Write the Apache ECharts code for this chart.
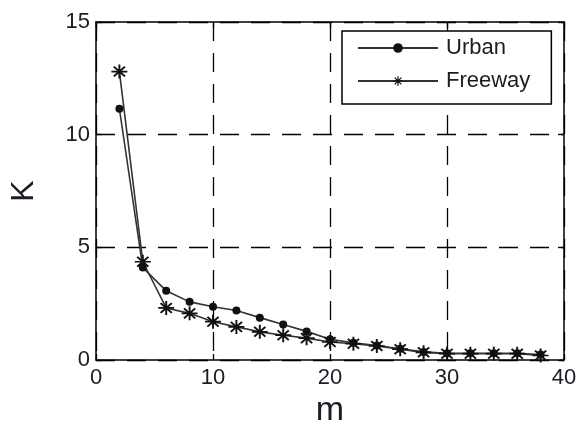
<!DOCTYPE html>
<html>
<head>
<meta charset="utf-8">
<script src="https://cdn.jsdelivr.net/npm/echarts@6/dist/echarts.min.js"></script>
<style>
  html, body { margin: 0; padding: 0; background: #fff; }
  #chart { width: 578px; height: 428px; }
</style>
</head>
<body>
<div id="chart"></div>
<script>
// m values sampled every 2 units
const mValues = [2, 4, 6, 8, 10, 12, 14, 16, 18, 20, 22, 24, 26, 28, 30, 32, 34, 36, 38];
const urbanK = [11.15, 4.1, 3.07, 2.58, 2.36, 2.2, 1.88, 1.58, 1.27, 0.92, 0.76, 0.64, 0.5, 0.36, 0.3, 0.3, 0.3, 0.3, 0.24];
const freewayK = [12.8, 4.36, 2.31, 2.07, 1.7, 1.47, 1.25, 1.1, 0.97, 0.8, 0.72, 0.62, 0.48, 0.34, 0.28, 0.28, 0.28, 0.28, 0.2];
const xTicks = [0, 10, 20, 30, 40];
const yTicks = [0, 5, 10, 15];

// asterisk marker: plus + cross, all subpaths wound the same way
const asterisk = 'path://M8.8,0L11.2,0L11.2,20L8.8,20Z M0,8.8L20,8.8L20,11.2L0,11.2Z ' +
  'M2.1,3.9L3.9,2.1L17.9,16.1L16.1,17.9Z M16.1,2.1L17.9,3.9L3.9,17.9L2.1,16.1Z';

const font = "'Liberation Sans', Arial, sans-serif";
const ink = '#1c1c24';

const pairs = (ys) => mValues.map((m, i) => [m, ys[i]]);

const dashed = { show: true, lineStyle: { color: '#000', width: 1.3, type: [19, 12] } };
const frameLine = { show: true, onZero: false, lineStyle: { color: '#000', width: 1.5 } };
const inTick = { show: true, inside: true, length: 6, lineStyle: { color: '#000', width: 1.3 } };

const chart = echarts.init(document.getElementById('chart'), null, { renderer: 'canvas' });
chart.setOption({
  animation: false,
  backgroundColor: '#fff',
  textStyle: { fontFamily: font },
  grid: { left: 96, right: 14, top: 22, bottom: 68, containLabel: false, outerBoundsMode: 'none' },
  legend: {
    left: 342, top: 31,
    orient: 'vertical',
    itemWidth: 80, itemHeight: 12, itemGap: 11,
    padding: [6, 21, 12, 15],
    backgroundColor: '#fff',
    borderColor: '#000', borderWidth: 1.5, borderRadius: 0,
    textStyle: { fontFamily: font, fontSize: 22, color: ink, padding: [0, 0, 0, 3] },
    data: ['Urban', 'Freeway']
  },
  xAxis: [{
    type: 'value', min: xTicks[0], max: xTicks[xTicks.length - 1], interval: 10,
    position: 'bottom',
    name: 'm', nameLocation: 'middle', nameGap: 34,
    nameTextStyle: { fontFamily: font, fontSize: 34, color: ink },
    axisLine: frameLine, axisTick: inTick,
    axisLabel: { fontFamily: font, fontSize: 22, color: ink, margin: 7 },
    splitLine: dashed
  }, {
    type: 'value', min: xTicks[0], max: xTicks[xTicks.length - 1], interval: 10,
    position: 'top',
    axisLine: frameLine, axisTick: inTick,
    axisLabel: { show: false }, splitLine: { show: false }
  }],
  yAxis: [{
    type: 'value', min: yTicks[0], max: yTicks[yTicks.length - 1], interval: 5,
    position: 'left',
    name: 'K', nameLocation: 'middle', nameGap: 56,
    nameTextStyle: { fontFamily: font, fontSize: 32, color: ink },
    axisLine: frameLine, axisTick: inTick,
    axisLabel: { fontFamily: font, fontSize: 22, color: ink, margin: 6 },
    splitLine: dashed
  }, {
    type: 'value', min: yTicks[0], max: yTicks[yTicks.length - 1], interval: 5,
    position: 'right',
    axisLine: frameLine, axisTick: inTick,
    axisLabel: { show: false }, splitLine: { show: false }
  }],
  series: [{
    name: 'Urban', type: 'line',
    data: pairs(urbanK),
    symbol: 'circle', symbolSize: 8, showSymbol: true,
    itemStyle: { color: '#111' },
    lineStyle: { color: '#333', width: 1.6 },
    z: 3
  }, {
    name: 'Freeway', type: 'line',
    data: pairs(freewayK),
    symbol: asterisk, symbolSize: [16, 14], showSymbol: true,
    itemStyle: { color: '#111' },
    lineStyle: { color: '#333', width: 1.6 },
    z: 3
  }]
});
</script>
</body>
</html>
